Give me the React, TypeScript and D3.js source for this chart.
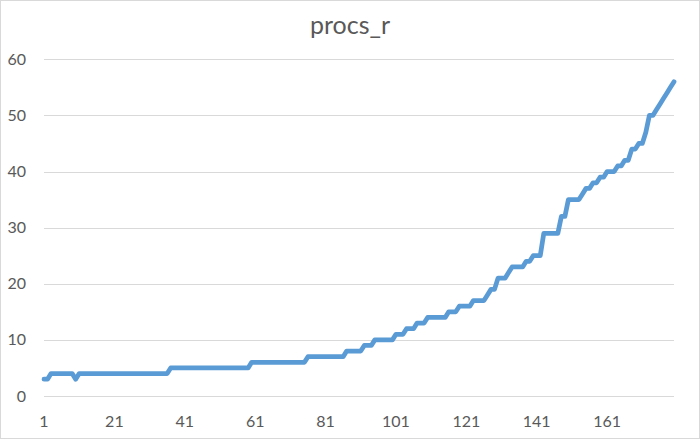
import React from "react";
import * as d3 from "d3";

const title = "procs_r";
const values: number[] = [
  3, 3, 4, 4, 4, 4, 4, 4, 4, 3,
  4, 4, 4, 4, 4, 4, 4, 4, 4, 4,
  4, 4, 4, 4, 4, 4, 4, 4, 4, 4,
  4, 4, 4, 4, 4, 4, 5, 5, 5, 5,
  5, 5, 5, 5, 5, 5, 5, 5, 5, 5,
  5, 5, 5, 5, 5, 5, 5, 5, 5, 6,
  6, 6, 6, 6, 6, 6, 6, 6, 6, 6,
  6, 6, 6, 6, 6, 7, 7, 7, 7, 7,
  7, 7, 7, 7, 7, 7, 8, 8, 8, 8,
  8, 9, 9, 9, 10, 10, 10, 10, 10, 10,
  11, 11, 11, 12, 12, 12, 13, 13, 13, 14,
  14, 14, 14, 14, 14, 15, 15, 15, 16, 16,
  16, 16, 17, 17, 17, 17, 18, 19, 19, 21,
  21, 21, 22, 23, 23, 23, 23, 24, 24, 25,
  25, 25, 29, 29, 29, 29, 29, 32, 32, 35,
  35, 35, 35, 36, 37, 37, 38, 38, 39, 39,
  40, 40, 40, 41, 41, 42, 42, 44, 44, 45,
  45, 47, 50, 50, 51, 52, 53, 54, 55, 56,
];
const xTickLabels = ["1", "21", "41", "61", "81", "101", "121", "141", "161"];
const yTicks = [0, 10, 20, 30, 40, 50, 60];

const W = 700;
const H = 439;
const left = 44;
const right = 674;
const top = 59.3;
const bottom = 396;

export default function App() {
  const x = d3.scaleLinear().domain([1, values.length]).range([left, right]);
  const y = d3.scaleLinear().domain([0, 60]).range([bottom, top]);
  const line = d3
    .line<number>()
    .x((_, i) => x(i + 1))
    .y((d) => y(d));
  const font = "Lato, 'Open Sans', sans-serif";
  return (
    <svg
      width={W}
      height={H}
      style={{ position: "absolute", left: 0, top: 0, background: "#fff" }}
    >
      <rect x={0.5} y={0.5} width={W - 1} height={H - 1} fill="#fff" stroke="#d9d9d9" />
      <text
        x={350}
        y={33.5}
        textAnchor="middle"
        fontFamily={font}
        fontSize={25}
        fill="#595959"
      >
        {title}
      </text>
      {yTicks.map((t) => (
        <g key={t}>
          <line
            x1={left}
            x2={right}
            y1={Math.round(y(t)) + 0.5}
            y2={Math.round(y(t)) + 0.5}
            stroke="#d9d9d9"
            strokeWidth={1}
          />
          <text
            x={26}
            y={y(t) + 5.5}
            textAnchor="end"
            fontFamily={font}
            fontSize={16}
            fill="#595959"
          >
            {t}
          </text>
        </g>
      ))}
      {xTickLabels.map((lab) => (
        <text
          key={lab}
          x={x(+lab)}
          y={427}
          textAnchor="middle"
          fontFamily={font}
          fontSize={16}
          fill="#595959"
        >
          {lab}
        </text>
      ))}
      <path
        d={line(values) || ""}
        fill="none"
        stroke="#5b9bd5"
        strokeWidth={4.75}
        strokeLinejoin="round"
        strokeLinecap="round"
      />
    </svg>
  );
}
